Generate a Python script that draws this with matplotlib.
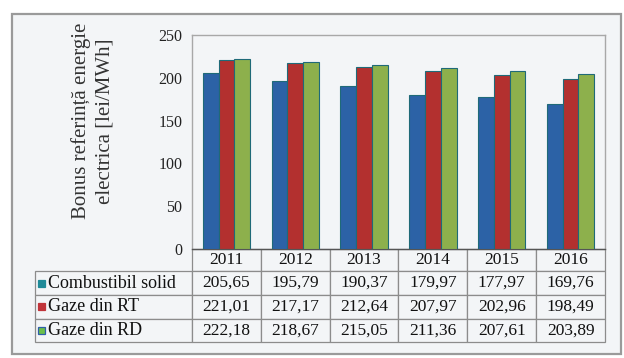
import matplotlib
matplotlib.use("Agg")
import matplotlib.pyplot as plt
import numpy as np
from matplotlib.table import Table
from matplotlib.patches import Rectangle

# Reference electricity bonus by fuel type, 2011-2016
years = ["2011", "2012", "2013", "2014", "2015", "2016"]
series_names = ["Combustibil solid", "Gaze din RT", "Gaze din RD"]
combustibil_solid = [205.65, 195.79, 190.37, 179.97, 177.97, 169.76]
gaze_rt = [221.01, 217.17, 212.64, 207.97, 202.96, 198.49]
gaze_rd = [222.18, 218.67, 215.05, 211.36, 207.61, 203.89]
y_ticks = [0, 50, 100, 150, 200, 250]

series = [combustibil_solid, gaze_rt, gaze_rd]
bar_colors = ["#2c62a6", "#b3302f", "#8db04c"]
swatch_colors = ["#1f8a98", "#c0343a", "#6cc04a"]
swatch_edges = ["#1f8a98", "#c0343a", "#2f5fa8"]
edge_color = "#1f6a78"
bg = "#f3f5f7"
serif = ["Liberation Serif", "DejaVu Serif"]

plt.rcParams["font.family"] = serif

fig = plt.figure(figsize=(6.24, 3.58), dpi=100)
fig.patch.set_facecolor("white")

# outer chart frame
frame = Rectangle((12 / 624, 1 - 354 / 358), 609 / 624, 340 / 358,
                  transform=fig.transFigure, facecolor=bg,
                  edgecolor="#9a9a9a", linewidth=1.6, zorder=-5)
fig.patches.append(frame)

ax = fig.add_axes([192 / 624, 1 - 249 / 358, 413 / 624, 214 / 358])
ax.set_facecolor(bg)

x = np.arange(len(years))
w = 0.23
for i, (vals, c) in enumerate(zip(series, bar_colors)):
    ax.bar(x + (i - 1) * w, vals, width=w, color=c, edgecolor=edge_color,
           linewidth=0.8, zorder=3)

ax.set_xlim(-0.5, len(years) - 0.5)
ax.set_ylim(0, 250)
ax.set_yticks(y_ticks)
ax.set_yticklabels([str(t) for t in y_ticks], fontfamily=serif, fontsize=11.5,
                   color="#222222")
ax.set_xticks([])
ax.tick_params(axis="y", length=0, pad=7)
for side in ["left", "top", "right"]:
    ax.spines[side].set_color("#a8a8a8")
    ax.spines[side].set_linewidth(1.0)
ax.spines["bottom"].set_color("#555555")
ax.spines["bottom"].set_linewidth(1.0)

fig.text(93 / 624, 1 - 121 / 358, "Bonus referință energie\nelectrica [lei/MWh]",
         rotation=90, ha="center", va="center", fontsize=15, fontfamily=serif,
         color="#333333", linespacing=1.3)

# data table under the bars
ax_w_px, ax_h_px = 413, 214
label_w_px = 157
col_w = 1 / len(years)
label_w = label_w_px / ax_w_px
row_h_px = [22, 24, 23.5, 23.5]
total_h = sum(row_h_px) / ax_h_px

# bbox covers the year columns; the row-label column sits to its left
tbl = Table(ax, bbox=[0, -total_h, 1, total_h])
line_col = "#8c8c8c"
for j, yr in enumerate(years):
    tbl.add_cell(0, j, width=col_w, height=row_h_px[0], text=yr,
                 loc="center", facecolor=bg, edgecolor=line_col)
c = tbl.add_cell(0, -1, width=label_w, height=row_h_px[0], text="",
                 facecolor=bg, edgecolor=line_col)
c.visible_edges = ""
for r, (name, vals) in enumerate(zip(series_names, series), start=1):
    tbl.add_cell(r, -1, width=label_w, height=row_h_px[r],
                 text=name, loc="left", facecolor=bg, edgecolor=line_col)
    for j, v in enumerate(vals):
        tbl.add_cell(r, j, width=col_w, height=row_h_px[r],
                     text=f"{v:.2f}".replace(".", ","), loc="center",
                     facecolor=bg, edgecolor=line_col)
tbl.auto_set_font_size(False)
tbl.set_fontsize(12.5)
for cell in tbl.get_celld().values():
    cell.set_linewidth(0.9)
    cell.get_text().set_color("#111111")
    cell.get_text().set_fontfamily(serif)
for r in range(1, 4):
    tbl[r, -1].PAD = 0.085
    tbl[r, -1].get_text().set_fontsize(13)
ax.add_table(tbl)

# legend swatches inside the row label cells
cum = row_h_px[0]
for r in range(3):
    h = row_h_px[r + 1]
    yc = -(cum + h / 2) / ax_h_px
    cum += h
    s = 7
    ax.add_patch(Rectangle(((38 - 192) / ax_w_px, yc - (s / 2) / ax_h_px),
                           s / ax_w_px, s / ax_h_px, transform=ax.transAxes,
                           facecolor=swatch_colors[r], edgecolor=swatch_edges[r],
                           linewidth=0.9, clip_on=False, zorder=5))

fig.savefig("out.png", dpi=100, facecolor="white")
